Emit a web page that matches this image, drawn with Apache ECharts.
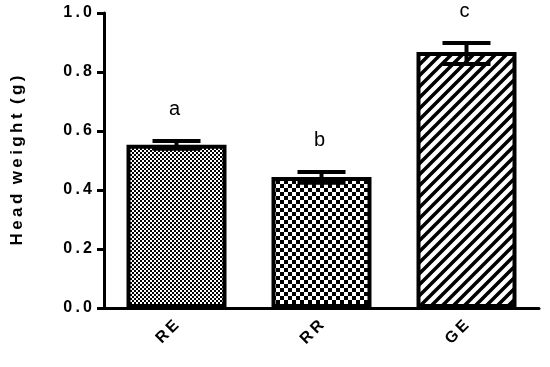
<!DOCTYPE html>
<html>
<head>
<meta charset="utf-8">
<script src="https://cdn.jsdelivr.net/npm/echarts@6/dist/echarts.min.js"></script>
<style>
  html, body { margin: 0; padding: 0; background: #fff; }
  #chart { width: 550px; height: 367px; }
</style>
</head>
<body>
<div id="chart"></div>
<script>
const groups = ['RE', 'RR', 'GE']
const means = [0.553, 0.444, 0.868]
const errLow = [0.540, 0.425, 0.827]
const errHigh = [0.566, 0.461, 0.898]
const letters = ['a', 'b', 'c']

// fill patterns
const checker = (cell) => {
  const c = document.createElement('canvas')
  c.width = cell * 2
  c.height = cell * 2
  const ctx = c.getContext('2d')
  ctx.fillStyle = '#fff'
  ctx.fillRect(0, 0, c.width, c.height)
  ctx.fillStyle = '#000'
  ctx.fillRect(0, 0, cell, cell)
  ctx.fillRect(cell, cell, cell, cell)
  return c
}

const stripes = (size) => {
  const c = document.createElement('canvas')
  c.width = size
  c.height = size
  const ctx = c.getContext('2d')
  ctx.fillStyle = '#fff'
  ctx.fillRect(0, 0, size, size)
  ctx.strokeStyle = '#000'
  ctx.lineWidth = size * 0.32
  ctx.beginPath()
  for (let k = -1; k <= 1; k++) {
    ctx.moveTo(k * size - size, size * 2)
    ctx.lineTo(k * size + size * 2, -size)
  }
  ctx.stroke()
  return c
}

const patterns = [checker(2), checker(4), stripes(11)]

const spaced = (s) => String(s).split('').join('\u2009')

const chart = echarts.init(document.getElementById('chart'))
chart.setOption({
  animation: false,
  grid: { left: 104, right: 11, top: 13, bottom: 59 },
  xAxis: {
    type: 'category',
    data: groups,
    axisLine: { lineStyle: { color: '#000', width: 3 } },
    axisTick: { alignWithLabel: true, length: 6, lineStyle: { color: '#000', width: 3 } },
    axisLabel: {
      rotate: 45,
      margin: 15,
      color: '#000',
      fontWeight: 'bold',
      fontSize: 16,
      fontFamily: 'Liberation Sans',
      formatter: (v) => spaced(v)
    }
  },
  yAxis: {
    type: 'value',
    min: 0,
    max: 1.0,
    interval: 0.2,
    name: 'H\u2009e\u2009a\u2009d  w\u2009e\u2009i\u2009g\u2009h\u2009t  (\u2009g\u2009)',
    nameLocation: 'middle',
    nameGap: 78,
    nameTextStyle: { color: '#000', fontWeight: 'bold', fontSize: 17, fontFamily: 'Liberation Sans' },
    splitLine: { show: false },
    axisLine: { show: true, lineStyle: { color: '#000', width: 3 } },
    axisTick: { show: true, length: 7, lineStyle: { color: '#000', width: 3 } },
    axisLabel: {
      margin: 12,
      color: '#000',
      fontWeight: 'bold',
      fontSize: 16,
      fontFamily: 'Liberation Sans',
      formatter: (v) => spaced(v.toFixed(1))
    }
  },
  series: [
    {
      type: 'bar',
      barWidth: 100,
      data: means.map((v, i) => ({
        value: v,
        itemStyle: {
          color: { image: patterns[i], repeat: 'repeat' },
          borderColor: '#000',
          borderWidth: 4
        }
      }))
    },
    {
      type: 'custom',
      data: groups.map((g, i) => [i, errLow[i], errHigh[i]]),
      renderItem: (params, api) => {
        const x = api.coord([api.value(0), 0])[0]
        const lo = api.coord([api.value(0), api.value(1)])[1]
        const hi = api.coord([api.value(0), api.value(2)])[1]
        const half = 24
        const style = { stroke: '#000', lineWidth: 4 }
        return {
          type: 'group',
          children: [
            { type: 'line', shape: { x1: x, y1: lo, x2: x, y2: hi }, style },
            { type: 'line', shape: { x1: x - half, y1: hi, x2: x + half, y2: hi }, style },
            { type: 'line', shape: { x1: x - half, y1: lo, x2: x + half, y2: lo }, style },
            {
              type: 'text',
              style: {
                text: letters[params.dataIndex],
                x: x - 2,
                y: hi - 32,
                align: 'center',
                verticalAlign: 'middle',
                fill: '#000',
                font: '20px "Liberation Sans"'
              }
            }
          ]
        }
      },
      z: 5
    }
  ]
})
</script>
</body>
</html>
